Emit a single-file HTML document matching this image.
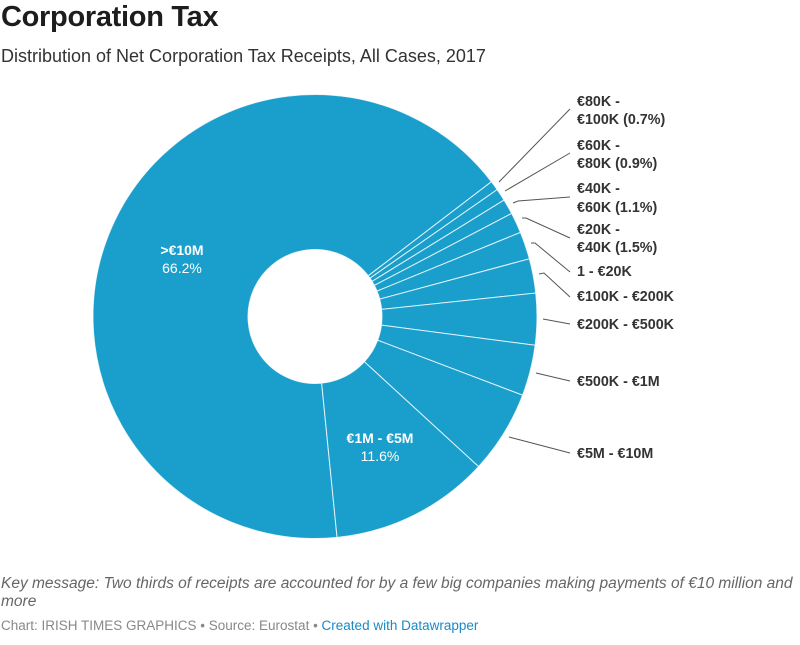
<!DOCTYPE html>
<html><head><meta charset="utf-8">
<style>
body{margin:0;width:800px;height:645px;background:#fff;font-family:"Liberation Sans",Arial,sans-serif;position:relative;overflow:hidden}
.t{position:absolute;white-space:nowrap}
</style></head><body>
<div class="t" style="left:1px;top:1px;font-size:29px;font-weight:bold;color:#1d1d1d;letter-spacing:-0.3px">Corporation Tax</div>
<div class="t" style="left:1px;top:46px;font-size:18px;color:#333">Distribution of Net Corporation Tax Receipts, All Cases, 2017</div>
<svg id="s" width="800" height="645" style="position:absolute;left:0;top:0">
<g id="pie"></g>
<g stroke="#555" stroke-width="1" fill="none">
<polyline points="499,182 570,109"/>
<polyline points="505,191 570,153"/>
<polyline points="513,203 518,201 570,197"/>
<polyline points="522,218 526,218 570,238"/>
<polyline points="531,243 535,243 570,272"/>
<polyline points="539,274 544,273 570,297"/>
<polyline points="543,319 570,324"/>
<polyline points="536,373 570,381"/>
<polyline points="509,437 570,453"/>
</g>
<g font-family="Liberation Sans, Arial, sans-serif" font-size="14.3" font-weight="bold" fill="#333">
<text x="577" y="106">€80K -</text><text x="577" y="124">€100K (0.7%)</text>
<text x="577" y="150">€60K -</text><text x="577" y="168">€80K (0.9%)</text>
<text x="577" y="193">€40K -</text><text x="577" y="212">€60K (1.1%)</text>
<text x="577" y="234">€20K -</text><text x="577" y="252">€40K (1.5%)</text>
<text x="577" y="276">1 - €20K</text>
<text x="577" y="301">€100K - €200K</text>
<text x="577" y="329">€200K - €500K</text>
<text x="577" y="386">€500K - €1M</text>
<text x="577" y="458">€5M - €10M</text>
</g>
<g font-family="Liberation Sans, Arial, sans-serif" font-size="14" fill="#fff" text-anchor="middle">
<text x="182" y="255" font-weight="bold">&gt;€10M</text><text x="182" y="273">66.2%</text>
<text x="380" y="443" font-weight="bold">€1M - €5M</text><text x="380" y="461">11.6%</text>
</g>
</svg>
<div class="t" style="left:1px;top:575px;font-size:15.5px;font-style:italic;color:#666;line-height:18px;white-space:normal;width:798px">Key message: Two thirds of receipts are accounted for by a few big companies making payments of €10 million and more</div>
<div class="t" style="left:1px;top:618px;font-size:13.5px;color:#888">Chart: IRISH TIMES GRAPHICS • Source: Eurostat • <span style="color:#1a8ac4">Created with Datawrapper</span></div>
<script>
(function(){
var cx=315,cy=316.5,R=222,r=67;
var vals=[66.2,0.7,0.9,1.1,1.5,2.0,2.5,3.75,3.7,6.05,11.6];
var a=174.3,out='';
function pt(rad,deg){var t=deg*Math.PI/180;return [cx+rad*Math.sin(t),cy-rad*Math.cos(t)];}
for(var i=0;i<vals.length;i++){
 var s=a,e=a+vals[i]*3.6;a=e;
 var large=(e-s)>180?1:0;
 var p1=pt(R,s),p2=pt(R,e),p3=pt(r,e),p4=pt(r,s);
 out+='<path d="M'+p1+' A'+R+','+R+' 0 '+large+' 1 '+p2+' L'+p3+' A'+r+','+r+' 0 '+large+' 0 '+p4+'Z" fill="#1a9fcc" stroke="#fff" stroke-width="1" stroke-opacity="0.8"/>';
}
document.getElementById('pie').innerHTML=out;
})();
</script>
</body></html>
